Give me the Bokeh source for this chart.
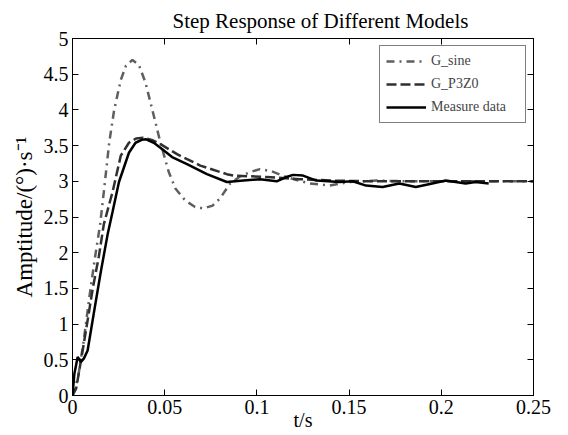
from bokeh.plotting import figure
from bokeh.models import Range1d, FixedTicker, LinearAxis, Legend, LegendItem
from bokeh.embed import file_html
from bokeh.resources import INLINE

# ---- data ----
sine_t = [0, 0.003, 0.006, 0.009, 0.012, 0.015, 0.0172, 0.0199, 0.0226, 0.0262, 0.029, 0.0325,
          0.036, 0.0396, 0.0433, 0.0477, 0.0522, 0.0558, 0.0612, 0.0665, 0.0711, 0.0760, 0.080,
          0.0855, 0.0910, 0.0963, 0.1017, 0.108, 0.116, 0.1225, 0.1286, 0.1394, 0.150, 0.165,
          0.18, 0.2, 0.22, 0.25]
sine_y = [0, 0.25, 0.75, 1.35, 1.9, 2.4, 2.9, 3.54, 4.0, 4.42, 4.62, 4.70,
          4.63, 4.38, 4.0, 3.54, 3.13, 2.90, 2.73, 2.64, 2.62, 2.66, 2.76,
          2.97, 3.07, 3.13, 3.17, 3.14, 3.06, 3.01, 2.97, 2.94, 2.99, 3.01,
          3.0, 3.0, 3.0, 3.0]

p3z0_t = [0, 0.002, 0.005, 0.0085, 0.011, 0.0143, 0.017, 0.0217, 0.0262, 0.0306, 0.0345,
          0.0383, 0.043, 0.0477, 0.0567, 0.0693, 0.0837, 0.0873, 0.1053, 0.1232, 0.1412,
          0.16, 0.2, 0.25]
p3z0_y = [0, 0.1, 0.55, 1.1, 1.5, 1.95, 2.4, 2.85, 3.36, 3.54, 3.60,
          3.61, 3.58, 3.52, 3.38, 3.22, 3.10, 3.08, 3.06, 3.03, 3.01,
          3.0, 3.0, 3.0]

meas_t = [0, 0.001, 0.0028, 0.0046, 0.0062, 0.0082, 0.0118, 0.0154, 0.019, 0.0217, 0.0252,
          0.0306, 0.0342, 0.0375, 0.0396, 0.0441, 0.0487, 0.054, 0.0621, 0.0729, 0.0837,
          0.0927, 0.1017, 0.1107, 0.116, 0.1196, 0.125, 0.1323, 0.1448, 0.152, 0.1592,
          0.1682, 0.1772, 0.1862, 0.1951, 0.2024, 0.2132, 0.2186, 0.2257]
meas_y = [0, 0.3, 0.54, 0.47, 0.52, 0.63, 1.19, 1.74, 2.25, 2.57, 2.99,
          3.40, 3.54, 3.58, 3.59, 3.54, 3.45, 3.34, 3.24, 3.10, 2.99,
          3.01, 3.03, 3.0, 3.06, 3.09, 3.08, 3.01, 2.99, 3.0, 2.94,
          2.92, 2.97, 2.92, 2.97, 3.01, 2.97, 2.99, 2.97]

series_names = ["G_sine", "G_P3Z0", "Measure data"]

x_ticks = [0, 0.05, 0.1, 0.15, 0.2, 0.25]
x_tick_labels = ["0", "0.05", "0.1", "0.15", "0.2", "0.25"]
y_ticks = [0, 0.5, 1, 1.5, 2, 2.5, 3, 3.5, 4, 4.5, 5]
y_tick_labels = ["0", "0.5", "1", "1.5", "2", "2.5", "3", "3.5", "4", "4.5", "5"]

title_text = "Step Response of Different Models"
x_label_text = "t/s"
y_label_text = "Amptitude/(°)·s⁻¹"

FONT = "'Liberation Serif', 'Times New Roman', serif"

p = figure(width=568, height=435,
           x_range=Range1d(0, 0.25), y_range=Range1d(0, 5),
           output_backend="svg", toolbar_location=None,
           min_border_left=72, min_border_right=35,
           min_border_top=35, min_border_bottom=40)
p.background_fill_color = "white"
p.border_fill_color = "white"
p.outline_line_color = "black"
p.outline_line_width = 1
p.xgrid.visible = False
p.ygrid.visible = False

p.title.text = title_text
p.title.align = "left"
p.title.offset = 100
p.title.text_font = FONT
p.title.text_font_style = "normal"
p.title.text_font_size = "21px"
p.title.text_color = "black"
p.title.standoff = 12

bottom_ax = p.below[0]
left_ax = p.left[0]

def style_axis(ax, ticks, labels, show_labels):
    ax.ticker = FixedTicker(ticks=ticks)
    ax.major_label_overrides = {t: l for t, l in zip(ticks, labels)}
    ax.major_tick_in = 6
    ax.major_tick_out = 0
    ax.minor_tick_line_color = None
    ax.axis_line_color = "black"
    ax.major_tick_line_color = "black"
    ax.major_label_text_font = FONT
    ax.major_label_text_font_style = "normal"
    if show_labels:
        ax.major_label_text_font_size = "20px"
        ax.major_label_text_color = "black"
        ax.major_label_standoff = 4
    else:
        ax.major_label_text_font_size = "1px"
        ax.major_label_text_color = None
        ax.major_label_standoff = 0

style_axis(bottom_ax, x_ticks, x_tick_labels, True)
style_axis(left_ax, y_ticks, y_tick_labels, True)
top_ax = LinearAxis()
right_ax = LinearAxis()
style_axis(top_ax, x_ticks, x_tick_labels, False)
style_axis(right_ax, y_ticks, y_tick_labels, False)
p.add_layout(top_ax, "above")
p.add_layout(right_ax, "right")

bottom_ax.axis_label = x_label_text
bottom_ax.axis_label_text_font = FONT
bottom_ax.axis_label_text_font_style = "normal"
bottom_ax.axis_label_text_font_size = "20px"
bottom_ax.axis_label_text_color = "black"
bottom_ax.axis_label_standoff = -8

left_ax.axis_label = y_label_text
left_ax.axis_label_text_font = FONT
left_ax.axis_label_text_font_style = "normal"
left_ax.axis_label_text_font_size = "23px"
left_ax.axis_label_text_color = "black"
left_ax.axis_label_standoff = 4

r1 = p.line(sine_t, sine_y, line_color="#5f5f5f", line_width=2.5, line_dash="8 5 2 5")
r2 = p.line(p3z0_t, p3z0_y, line_color="#303030", line_width=2.5, line_dash="10 4")
r3 = p.line(meas_t, meas_y, line_color="black", line_width=2.5)

legend = Legend(items=[LegendItem(label=series_names[0], renderers=[r1]),
                       LegendItem(label=series_names[1], renderers=[r2]),
                       LegendItem(label=series_names[2], renderers=[r3])],
                location="top_right", margin=7, padding=6, spacing=5,
                glyph_width=40, glyph_height=18, label_height=18, label_width=88,
                label_standoff=5, label_text_font=FONT,
                label_text_font_style="normal", label_text_font_size="14px",
                border_line_color="black", border_line_width=1,
                background_fill_color="white", background_fill_alpha=1)
p.add_layout(legend, "center")

open("out.html", "w").write(file_html(p, INLINE))
